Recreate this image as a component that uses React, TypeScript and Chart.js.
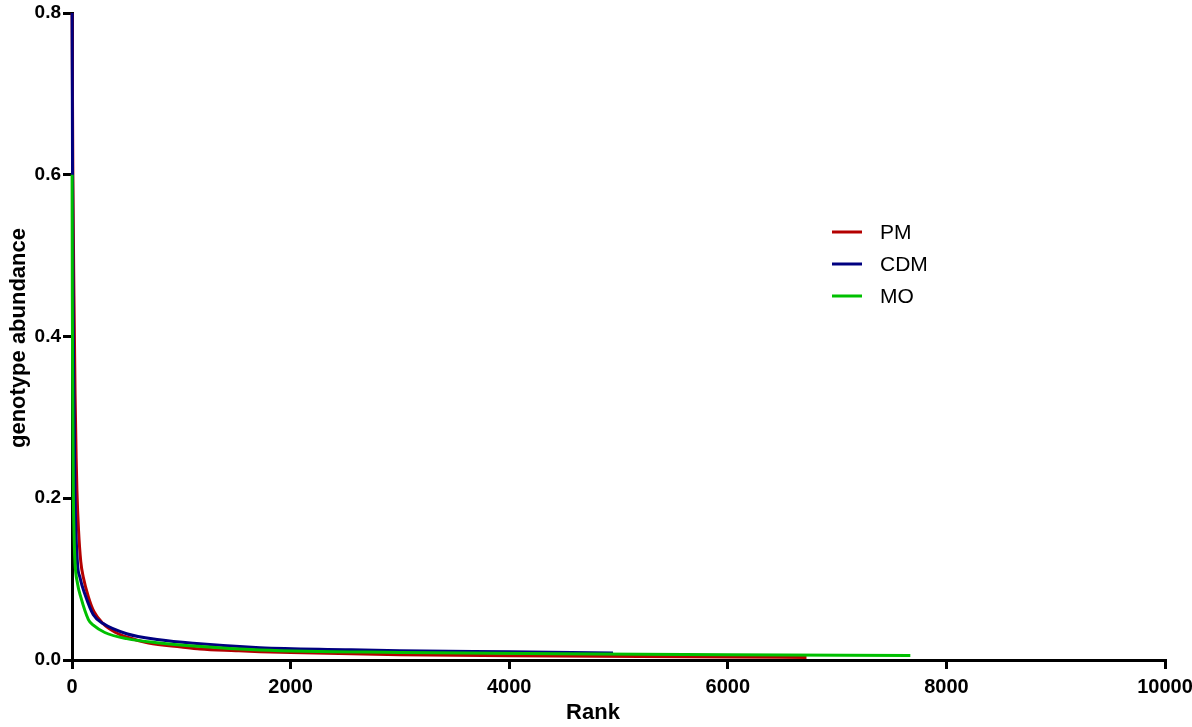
import { useEffect, useRef } from "react";
import { Chart, registerables } from "chart.js";

Chart.register(...registerables);

// ---- data ----
const seriesNames = ["PM", "CDM", "MO"];
const seriesColors = ["#b40000", "#000080", "#00c000"];

const pmRanks = [1, 8, 18, 28, 38, 45, 60, 80, 104, 150, 200, 285, 400, 500, 700, 1000, 1170, 1500, 1720, 2000, 3000, 4000, 4800, 6000, 6720];
const pmValues = [0.8, 0.6, 0.45, 0.33, 0.25, 0.21, 0.16, 0.122, 0.102, 0.078, 0.06, 0.045, 0.034, 0.0284, 0.021, 0.016, 0.0135, 0.0115, 0.0103, 0.0092, 0.0066, 0.0053, 0.0045, 0.0037, 0.0032];

const cdmRanks = [1, 5, 12, 20, 27, 49, 73, 119, 195, 285, 500, 800, 1110, 1720, 2500, 3000, 4000, 4950];
const cdmValues = [0.8, 0.6, 0.4, 0.3, 0.21, 0.122, 0.102, 0.081, 0.056, 0.045, 0.0325, 0.025, 0.0206, 0.0152, 0.0128, 0.0115, 0.0101, 0.0088];

const moRanks = [1, 3, 6, 12, 18, 27, 50, 80, 150, 195, 300, 500, 800, 1110, 1720, 3000, 4800, 6000, 7670];
const moValues = [0.6, 0.45, 0.35, 0.21, 0.16, 0.122, 0.095, 0.078, 0.05, 0.043, 0.034, 0.0264, 0.021, 0.0173, 0.0124, 0.0094, 0.0074, 0.0065, 0.0057];

const xTicks = [0, 2000, 4000, 6000, 8000, 10000];
const yTicks = [0, 0.2, 0.4, 0.6, 0.8];
const xTitle = "Rank";
const yTitle = "genotype abundance";

const toPoints = (xs: number[], ys: number[]) => xs.map((x, i) => ({ x, y: ys[i] }));

const FONT = "'Liberation Sans', Arial, sans-serif";

const overlayPlugin = {
  id: "overlay",
  afterDraw(chart: any) {
    const ctx = chart.ctx as CanvasRenderingContext2D;
    ctx.save();
    // legend
    seriesNames.forEach((name, i) => {
      const y = 232 + i * 32;
      ctx.strokeStyle = seriesColors[i];
      ctx.lineWidth = 3;
      ctx.beginPath();
      ctx.moveTo(832, y);
      ctx.lineTo(862, y);
      ctx.stroke();
      ctx.fillStyle = "#000";
      ctx.font = `21px ${FONT}`;
      ctx.textAlign = "left";
      ctx.textBaseline = "middle";
      ctx.fillText(name, 880, y + 1);
    });
    // axis titles
    ctx.fillStyle = "#000";
    ctx.font = `bold 22px ${FONT}`;
    ctx.textAlign = "center";
    ctx.textBaseline = "middle";
    ctx.fillText(xTitle, 593, 713);
    ctx.translate(19, 338);
    ctx.rotate(-Math.PI / 2);
    ctx.fillText(yTitle, 0, 0);
    ctx.restore();
  },
};

export default function App() {
  const canvasRef = useRef<HTMLCanvasElement | null>(null);

  useEffect(() => {
    if (!canvasRef.current) return;
    const chart = new Chart(canvasRef.current, {
      type: "line",
      data: {
        datasets: [
          { label: seriesNames[0], data: toPoints(pmRanks, pmValues), borderColor: seriesColors[0], order: 2 },
          { label: seriesNames[1], data: toPoints(cdmRanks, cdmValues), borderColor: seriesColors[1], order: 1 },
          { label: seriesNames[2], data: toPoints(moRanks, moValues), borderColor: seriesColors[2], order: 0 },
        ].map((d) => ({
          ...d,
          borderWidth: 3,
          pointRadius: 0,
          fill: false,
          cubicInterpolationMode: "monotone" as const,
          clip: 6,
        })),
      },
      options: {
        animation: false,
        responsive: true,
        maintainAspectRatio: false,
        layout: { padding: { top: 13, right: 27, left: 0, bottom: 0 } },
        plugins: { legend: { display: false }, tooltip: { enabled: false } },
        scales: {
          x: {
            type: "linear",
            min: 0,
            max: 10000,
            afterBuildTicks: (s: any) => {
              s.ticks = xTicks.map((v) => ({ value: v }));
            },
            afterFit: (s: any) => {
              s.height = 67;
              s.paddingRight = 0;
              s.paddingLeft = 0;
            },
            ticks: {
              color: "#000",
              font: { family: FONT, size: 20, weight: "bold" },
              padding: 6,
              maxRotation: 0,
              autoSkip: false,
              callback: (v: any) => String(v),
            },
            grid: { display: true, drawOnChartArea: false, drawTicks: true, tickLength: 9, color: "#000", lineWidth: 3 },
            border: { display: true, color: "#000", width: 3 },
          },
          y: {
            type: "linear",
            min: 0,
            max: 0.8,
            afterBuildTicks: (s: any) => {
              s.ticks = yTicks.map((v) => ({ value: v }));
            },
            afterFit: (s: any) => {
              s.width = 72;
              s.paddingTop = 0;
              s.paddingBottom = 0;
            },
            ticks: {
              color: "#000",
              font: { family: FONT, size: 19, weight: "bold" },
              padding: 2,
              autoSkip: false,
              callback: (v: any) => Number(v).toFixed(1),
            },
            grid: { display: true, drawOnChartArea: false, drawTicks: true, tickLength: 9, color: "#000", lineWidth: 3 },
            border: { display: true, color: "#000", width: 3 },
          },
        },
      },
      plugins: [overlayPlugin],
    });
    return () => chart.destroy();
  }, []);

  return (
    <div style={{ position: "fixed", left: 0, top: 0, width: 1192, height: 727, background: "#fff" }}>
      <canvas ref={canvasRef} />
    </div>
  );
}
